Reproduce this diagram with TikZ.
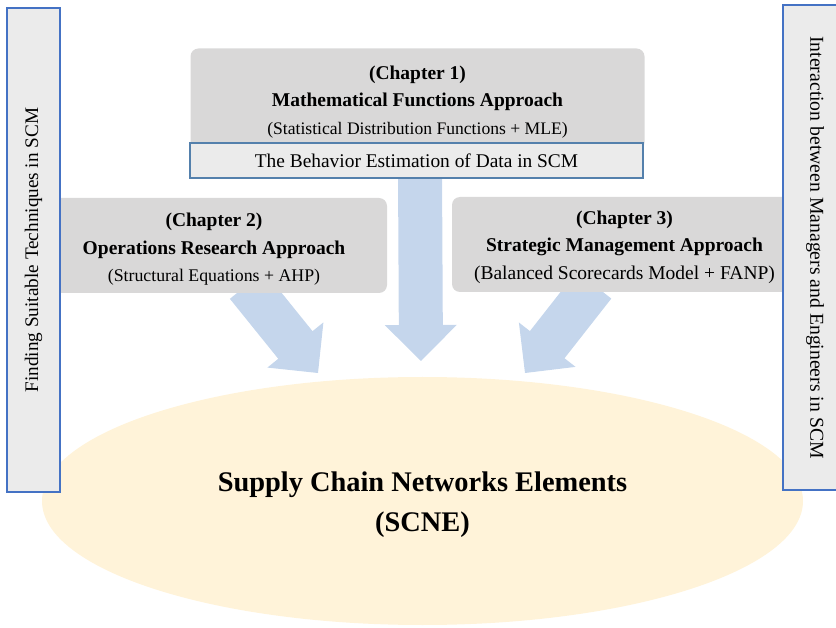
\documentclass[tikz,border=0pt]{standalone}
\usepackage{fontspec}
\setmainfont{Liberation Serif}
\usetikzlibrary{shapes.geometric,calc}
\definecolor{boxgray}{RGB}{217,216,216}
\definecolor{sidegray}{RGB}{235,235,235}
\definecolor{sideblue}{RGB}{68,114,196}
\definecolor{stripblue}{RGB}{84,128,172}
\definecolor{arrowblue}{RGB}{197,214,236}
\definecolor{scnecream}{RGB}{255,243,217}
\newcommand\blockarrow[2]{%
  \coordinate (hb) at ($(#2)!36pt!(#1)$);
  \fill[arrowblue] ($(#1)!22pt!90:(#2)$) -- ($(hb)!22pt!90:(#2)$) -- ($(hb)!36pt!90:(#2)$)
    -- (#2) -- ($(hb)!36pt!-90:(#2)$) -- ($(hb)!22pt!-90:(#2)$) -- ($(#1)!22pt!-90:(#2)$) -- cycle;}

\begin{document}
\begin{tikzpicture}[x=1pt,y=-1pt]
\tikzset{chapbox/.style={fill=boxgray, rounded corners=8pt, align=center, inner sep=0pt,
    font=\bfseries\fontsize{19.5}{27.5}\selectfont},
  sidebox/.style={fill=sidegray, draw=sideblue, line width=2pt, inner sep=0pt,
    font=\fontsize{19.2}{23}\selectfont},
  stripbox/.style={fill=sidegray, draw=stripblue, line width=2.4pt, inner sep=0pt,
    font=\fontsize{19.4}{23}\selectfont}}
\useasboundingbox (0,0) rectangle (836,628);
\node[ellipse, fill=scnecream, minimum width=761pt, minimum height=248pt, inner sep=0pt, align=center,
  font=\bfseries\fontsize{28.4}{40}\selectfont] (scne) at (422.5,501)
  {\rule{0pt}{27.5pt}Supply Chain Networks Elements\\(SCNE)};
\coordinate (mathin) at (420,170);
\coordinate (mathtip) at (421,361);
\coordinate (opin) at (247,285);
\coordinate (optip) at (318,373);
\coordinate (stratin) at (594,285);
\coordinate (strattip) at (525,373);
\blockarrow{mathin}{mathtip}
\blockarrow{opin}{optip}
\blockarrow{stratin}{strattip}
\node[chapbox, minimum width=454pt, minimum height=102pt] (math) at (417.5,99.5)
  {\rule{0pt}{18pt}(Chapter 1)\\Mathematical Functions Approach\\{\mdseries\fontsize{17.6}{27.5}\selectfont(Statistical Distribution Functions + MLE)}};
\node[chapbox, minimum width=346pt, minimum height=95pt] (oper) at (214,245.5)
  {\rule{0pt}{21pt}(Chapter 2)\\Operations Research Approach\\{\mdseries\fontsize{17.8}{27.5}\selectfont(Structural Equations + AHP)}};
\node[chapbox, minimum width=345pt, minimum height=95pt] (strat) at (624.5,244.5)
  {\rule{0pt}{19pt}(Chapter 3)\\Strategic Management Approach\\{\mdseries(Balanced Scorecards Model + FANP)}};
\node[stripbox, minimum width=453pt, minimum height=35pt] (behav) at (416.5,160.5)
  {The Behavior Estimation of Data in SCM};
\node[sidebox, rotate=90, minimum width=484pt, minimum height=53pt] (find) at (33.5,250)
  {Finding Suitable Techniques in SCM};
\node[sidebox, rotate=-90, minimum width=485pt, minimum height=64pt, font=\fontsize{19.7}{23}\selectfont] (inter) at (815,247.5)
  {Interaction between Managers and Engineers in SCM};
\end{tikzpicture}
\end{document}
